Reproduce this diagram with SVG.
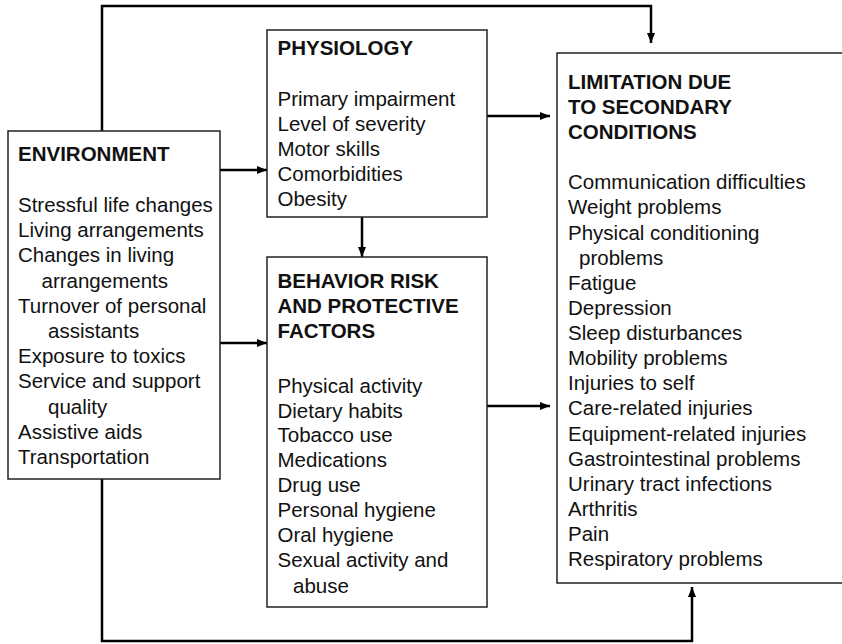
<svg xmlns="http://www.w3.org/2000/svg" width="842" height="644" viewBox="0 0 842 644">
<defs>
<marker id="ah" markerWidth="10" markerHeight="8" refX="10" refY="4" orient="auto" markerUnits="userSpaceOnUse">
<path d="M0,0 L10,4 L0,8 Z" fill="#000"/>
</marker>
<style>
.box{fill:#fff;stroke:#222;stroke-width:1.5}
.t{font-family:"Liberation Sans",Arial,sans-serif;font-size:20.5px;fill:#111}
.h{font-weight:bold}
.c{fill:none;stroke:#000;stroke-width:2.5}
</style>
</defs>
<rect width="842" height="644" fill="#fff"/>
<g id="connectors">
<path class="c" d="M102,131 V6 H651 V43" marker-end="url(#ah)"/>
<path class="c" d="M102,479 V641 H692 V587" marker-end="url(#ah)"/>
<path class="c" d="M220,170 H267" marker-end="url(#ah)"/>
<path class="c" d="M220,343 H267" marker-end="url(#ah)"/>
<path class="c" d="M487,116 H550" marker-end="url(#ah)"/>
<path class="c" d="M487,406 H550" marker-end="url(#ah)"/>
<path class="c" d="M362,217 V257" marker-end="url(#ah)"/>
</g>
<g id="environment">
<rect class="box" x="8" y="131" width="212" height="348"/>
<text class="t h" x="18" y="161">ENVIRONMENT</text>
<text class="t" x="18" y="212">Stressful life changes</text>
<text class="t" x="18" y="237.2">Living arrangements</text>
<text class="t" x="18" y="262.4">Changes in living</text>
<text class="t" x="41.5" y="287.6">arrangements</text>
<text class="t" x="18" y="312.8">Turnover of personal</text>
<text class="t" x="48" y="338">assistants</text>
<text class="t" x="18" y="363.2">Exposure to toxics</text>
<text class="t" x="18" y="388.4">Service and support</text>
<text class="t" x="48" y="413.6">quality</text>
<text class="t" x="18" y="438.8">Assistive aids</text>
<text class="t" x="18" y="464">Transportation</text>
</g>
<g id="physiology">
<rect class="box" x="267" y="30" width="220" height="187"/>
<text class="t h" x="277.5" y="55">PHYSIOLOGY</text>
<text class="t" x="277.5" y="106">Primary impairment</text>
<text class="t" x="277.5" y="131">Level of severity</text>
<text class="t" x="277.5" y="156">Motor skills</text>
<text class="t" x="277.5" y="181">Comorbidities</text>
<text class="t" x="277.5" y="206">Obesity</text>
</g>
<g id="behavior">
<rect class="box" x="267" y="257" width="220" height="350"/>
<text class="t h" x="277.5" y="288">BEHAVIOR RISK</text>
<text class="t h" x="277.5" y="313">AND PROTECTIVE</text>
<text class="t h" x="277.5" y="338">FACTORS</text>
<text class="t" x="277.5" y="392.5">Physical activity</text>
<text class="t" x="277.5" y="417.5">Dietary habits</text>
<text class="t" x="277.5" y="442">Tobacco use</text>
<text class="t" x="277.5" y="467">Medications</text>
<text class="t" x="277.5" y="492">Drug use</text>
<text class="t" x="277.5" y="517">Personal hygiene</text>
<text class="t" x="277.5" y="542">Oral hygiene</text>
<text class="t" x="277.5" y="567">Sexual activity and</text>
<text class="t" x="293" y="592.5">abuse</text>
</g>
<g id="limitation">
<rect class="box" x="557" y="53" width="300" height="530"/>
<text class="t h" x="568" y="89">LIMITATION DUE</text>
<text class="t h" x="568" y="114">TO SECONDARY</text>
<text class="t h" x="568" y="138.5">CONDITIONS</text>
<text class="t" x="568" y="189">Communication difficulties</text>
<text class="t" x="568" y="214">Weight problems</text>
<text class="t" x="568" y="239.5">Physical conditioning</text>
<text class="t" x="579" y="264.5">problems</text>
<text class="t" x="568" y="290">Fatigue</text>
<text class="t" x="568" y="315">Depression</text>
<text class="t" x="568" y="340">Sleep disturbances</text>
<text class="t" x="568" y="365">Mobility problems</text>
<text class="t" x="568" y="390">Injuries to self</text>
<text class="t" x="568" y="415">Care-related injuries</text>
<text class="t" x="568" y="440.5">Equipment-related injuries</text>
<text class="t" x="568" y="465.5">Gastrointestinal problems</text>
<text class="t" x="568" y="490.5">Urinary tract infections</text>
<text class="t" x="568" y="515.5">Arthritis</text>
<text class="t" x="568" y="541">Pain</text>
<text class="t" x="568" y="566">Respiratory problems</text>
</g>
</svg>
